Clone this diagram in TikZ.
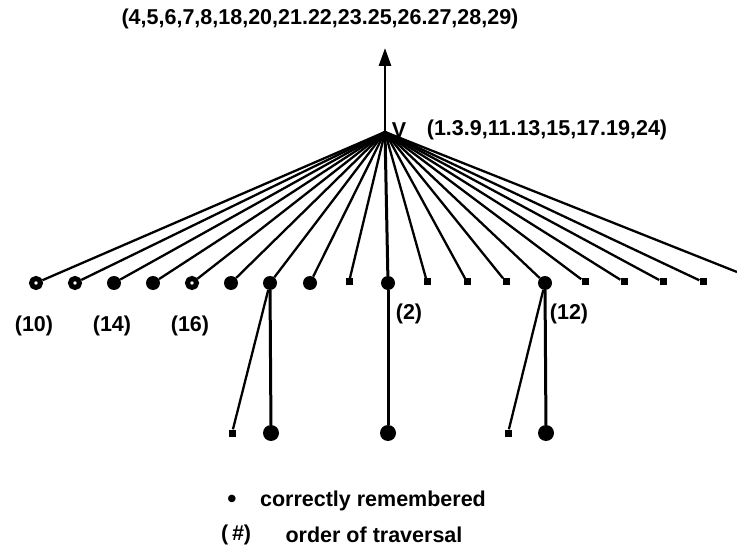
\documentclass[tikz,border=0pt]{standalone}
\usepackage{fontspec}
\setmainfont{Liberation Sans}
\usetikzlibrary{arrows.meta}
\begin{document}
\begin{tikzpicture}[x=1pt,y=-1pt,
  circ/.style={circle,fill=black,inner sep=0pt,minimum size=14pt},
  ring/.style={circle,draw=black,line width=5pt,fill=white,inner sep=0pt,minimum size=9pt},
  sq/.style={rectangle,fill=black,inner sep=0pt,minimum size=7pt},
  gcirc/.style={circle,fill=black,inner sep=0pt,minimum size=16pt},
  edge/.style={line width=2.3pt},
  thickedge/.style={line width=3pt},
  lab/.style={font=\fontsize{21.5}{25}\selectfont\bfseries,inner sep=0pt}]
\useasboundingbox (0,0) rectangle (737,556);
% root
\coordinate (v) at (385,132);
\coordinate (up) at (385,48);
\node[lab] (top) at (320,19) {(4,5,6,7,8,18,20,21.22,23.25,26.27,28,29)};
\node[lab] (vl) at (399,130) {V};
\node[lab] (vs) at (547,130) {(1.3.9,11.13,15,17.19,24)};
\draw[line width=2.8pt,-{Triangle[length=18pt,width=12pt]}] (v) -- (up);
% children
\node[ring] (c1) at (36,283) {};
\node[ring] (c2) at (75,283) {};
\node[circ] (c3) at (114,283) {};
\node[circ] (c4) at (153,283) {};
\node[ring] (c5) at (192,283) {};
\node[circ] (c6) at (231,283) {};
\node[circ] (c7) at (270,283) {};
\node[circ] (c8) at (310,283) {};
\node[sq] (c9) at (349,282) {};
\node[circ] (c10) at (388,283) {};
\node[sq] (c11) at (427,282) {};
\node[sq] (c12) at (467,282) {};
\node[sq] (c13) at (506,282) {};
\node[circ] (c14) at (545,283) {};
\node[sq] (c15) at (585,282) {};
\node[sq] (c16) at (624,282) {};
\node[sq] (c17) at (663,282) {};
\node[sq] (c18) at (703,282) {};
\coordinate (c19) at (737,272);
\foreach \i in {1,...,9,11,12,13,14,15,16,17,18,19}{\draw[edge] (v) -- (c\i);}
\draw[thickedge] (v) -- (c10);
% grandchildren
\node[sq] (g1) at (232,433) {};
\node[gcirc] (g2) at (271,433) {};
\node[gcirc] (g3) at (388,433) {};
\node[sq] (g4) at (508,433) {};
\node[gcirc] (g5) at (546,433) {};
\draw[edge] (c7) -- (g1);
\draw[thickedge] (c7) -- (g2);
\draw[thickedge] (c10) -- (g3);
\draw[edge] (c14) -- (g4);
\draw[thickedge] (c14) -- (g5);
% labels
\node[lab] (l10) at (34,326) {(10)};
\node[lab] (l14) at (112,326) {(14)};
\node[lab] (l16) at (190,326) {(16)};
\node[lab] (l2) at (409,314) {(2)};
\node[lab] (l12) at (569,314) {(12)};
% legend
\node[lab,font=\fontsize{26}{28}\selectfont\bfseries] (b) at (232,501) {\symbol{"2022}};
\node[lab] (bt) at (373,501) {correctly remembered};
\node[lab] (h) at (236,535) {(\,\textit{\#})};
\node[lab] (ht) at (374,535) {order of traversal};
\end{tikzpicture}
\end{document}
